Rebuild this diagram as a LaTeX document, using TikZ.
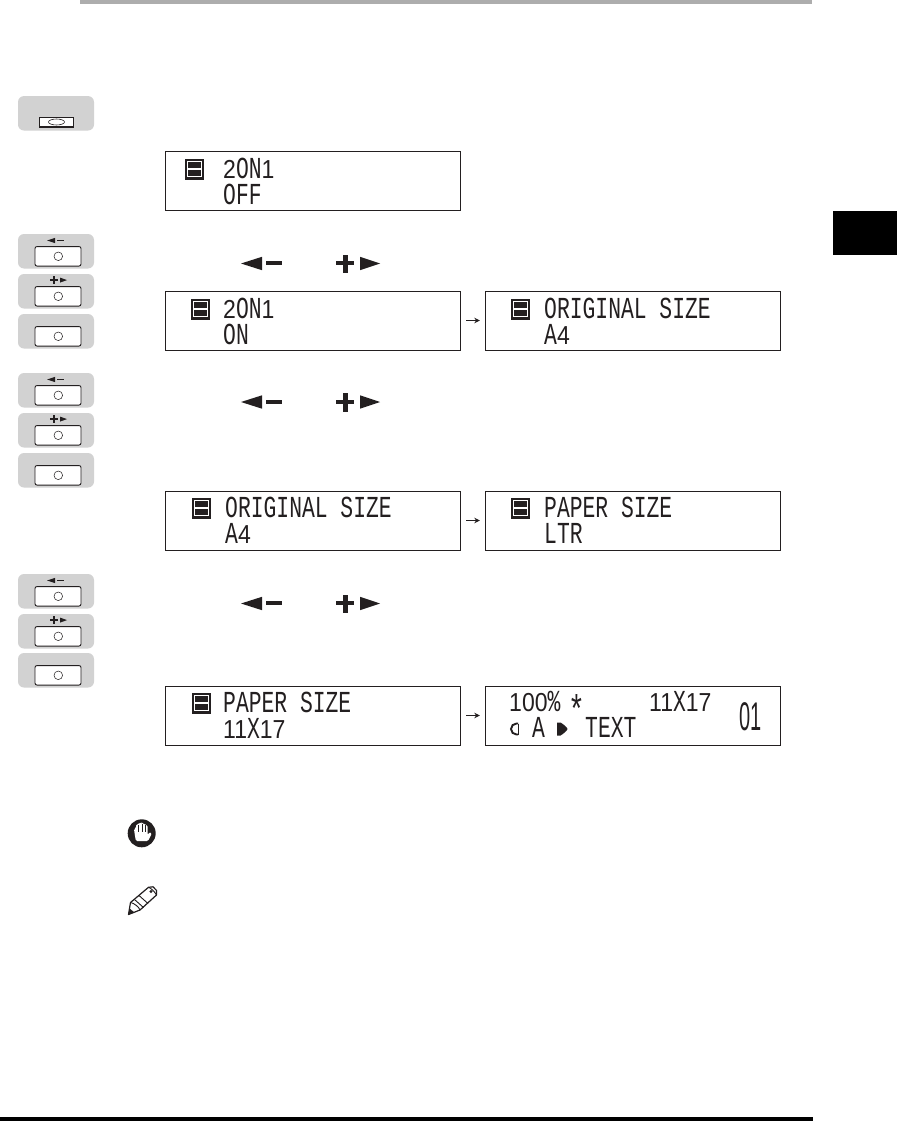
\documentclass[tikz,border=0pt]{standalone}
\usepackage{fontspec}
\usetikzlibrary{arrows.meta}
\newfontfamily\lcdfont[FakeStretch=0.70]{Liberation Mono}
\newfontfamily\lcddigit[FakeStretch=0.885]{Liberation Sans}
\newfontfamily\lcdnarrow[FakeStretch=0.50]{Liberation Sans}
\newcommand{\dg}[1]{{\lcddigit\fontsize{26}{26}\selectfont #1}}
\definecolor{pad}{HTML}{D2D2D2}
\definecolor{ink}{HTML}{231F20}
\tikzset{
 lcdbox/.style={draw=ink,line width=0.9pt,minimum width=295.5pt,minimum height=59pt,inner sep=0pt},
 lcdtext/.style={anchor=base west,inner sep=0pt,text=ink,text height=19pt,text depth=0pt,font=\lcdfont\fontsize{30.5}{30.5}\selectfont},
 padbox/.style={fill=pad,rounded corners=6pt,minimum width=76pt,minimum height=34.5pt,inner sep=0pt},
 keybox/.style={draw=ink,line width=0.9pt,fill=white,rounded corners=2pt,minimum width=46pt,minimum height=19.5pt,inner sep=0pt},
 keydot/.style={draw=ink,line width=0.5pt,circle,minimum size=8.6pt,inner sep=0pt},
 lcdarrow/.style={draw=ink,line width=1.2pt,-{Stealth[length=5.5pt,width=5.5pt]}},
}
\newcommand{\paneicon}[2]{%
 \fill[ink] (#1,#2) rectangle ++(19,21);
 \fill[white] (#1+2.2,#2+2.2) rectangle ++(14.6,16.6);
 \fill[ink] (#1+3.4,#2+3.6) rectangle ++(12.2,6);
 \fill[ink] (#1+3.4,#2+11.4) rectangle ++(12.2,6);
}
\newcommand{\keypad}[3]{%
 \node[padbox] (#1) at (56,#2+17.25) {};
 \node[keybox] (#1k) at (58,#2+22.3) {};
 \node[keydot] (#1d) at (58.3,#2+22.3) {};
 \ifcase#3\or
  \fill[ink] (47,#2+6.5) -- (55,#2+3.9) -- (55,#2+9.1) -- cycle;
  \fill[ink] (57,#2+5.8) rectangle (64,#2+7.2);
 \or
  \fill[ink] (50,#2+5.4) rectangle (58,#2+6.8);
  \fill[ink] (53.3,#2+2.1) rectangle (54.7,#2+10.1);
  \fill[ink] (67,#2+6.1) -- (60,#2+3.6) -- (60,#2+8.6) -- cycle;
 \fi
}
\newcommand{\bigkeys}[1]{%
 \fill[ink] (241,#1+0.5) -- (262,#1-6.2) -- (262,#1+7.2) -- cycle;
 \fill[ink] (266,#1-2) rectangle (282,#1+2);
 \fill[ink] (336,#1-2) rectangle (354,#1+2);
 \fill[ink] (342.5,#1-8.5) rectangle (347.5,#1+10);
 \fill[ink] (380,#1+0.5) -- (360,#1-6.2) -- (360,#1+7.2) -- cycle;
}
\begin{document}
\begin{tikzpicture}[x=1pt,y=-1pt]
\useasboundingbox (0,0) rectangle (897,1121);
\fill[white] (0,0) rectangle (897,1121);
% page furniture
\fill[black!32] (80,0) rectangle (812,4);
\fill[black] (833,211) rectangle (897,255);
\fill[black] (0,1117) rectangle (812.5,1121);

% pads
\node[padbox] (p1) at (56,113.3) {};
\node[draw=ink,line width=0.8pt,fill=white,minimum width=34pt,minimum height=9.5pt,inner sep=0pt] (p1k) at (56.5,122) {};
\draw[ink,line width=1.6pt] (p1k.south west) -- (p1k.south east);
\draw[ink,line width=0.6pt] (p1k.center) ellipse (8pt and 3pt);
\keypad{a1}{234}{1}
\keypad{a2}{274}{2}
\keypad{a3}{314}{0}
\keypad{b1}{373}{1}
\keypad{b2}{413}{2}
\keypad{b3}{453}{0}
\keypad{c1}{574}{1}
\keypad{c2}{614}{2}
\keypad{c3}{653}{0}

% large symbols
\bigkeys{263}
\bigkeys{401.5}
\bigkeys{603}

% LCD boxes
\node[lcdbox] (l1) at (313,180.5) {};
\node[lcdbox] (l2a) at (313,320.5) {};
\node[lcdbox] (l2b) at (633,320.5) {};
\node[lcdbox] (l3a) at (313,520.5) {};
\node[lcdbox] (l3b) at (633,520.5) {};
\node[lcdbox] (l4a) at (313,715.5) {};
\node[lcdbox] (l4b) at (633,715.5) {};
\draw[lcdarrow] ([xshift=5pt]l2a.east) -- ([xshift=-5pt]l2b.west);
\draw[lcdarrow] ([xshift=5pt]l3a.east) -- ([xshift=-5pt]l3b.west);
\draw[lcdarrow] ([xshift=5pt]l4a.east) -- ([xshift=-5pt]l4b.west);

% icons
\paneicon{185}{158.5}
\paneicon{191}{298.5}
\paneicon{511}{298.5}
\paneicon{192}{497.5}
\paneicon{511}{497.5}
\paneicon{192}{692.5}

% LCD text
\node[lcdtext] (t1a) at (223,178) {\dg{2}ON\dg{1}};
\node[lcdtext] (t1b) at (223,204) {OFF};
\node[lcdtext] (t2a) at (223,318) {\dg{2}ON\dg{1}};
\node[lcdtext] (t2b) at (223,344) {ON};
\node[lcdtext] (t2c) at (544,318) {ORIGINAL SIZE};
\node[lcdtext] (t2d) at (544,344) {A\dg{4}};
\node[lcdtext] (t3a) at (225,517) {ORIGINAL SIZE};
\node[lcdtext] (t3b) at (225,543) {A\dg{4}};
\node[lcdtext] (t3c) at (544,517) {PAPER SIZE};
\node[lcdtext] (t3d) at (544,543) {LTR};
\node[lcdtext] (t4a) at (223,712) {PAPER SIZE};
\node[lcdtext] (t4b) at (223,738) {\dg{11}X\dg{17}};
\node[lcdtext] (t4c) at (509,711) {\dg{100}\%};
\node[lcdtext,font=\lcdfont\fontsize{40}{40}\selectfont,text height=15pt] (t4d) at (568,723) {*};
\node[lcdtext] (t4e) at (649,711) {\dg{11}X\dg{17}};
\node[lcdtext] (t4f) at (532,737) {A};
\node[lcdtext] (t4g) at (585,737) {TEXT};
\node[lcdtext,font=\lcdnarrow\fontsize{40}{40}\selectfont,text height=28pt] (t4h) at (739,730) {01};
% half circle marks
\draw[ink,line width=1.9pt] (518,723.5) -- (516.5,723.5) arc (90:270:5.5pt) -- (518,734.5);
\draw[ink,line width=0.8pt] (518,723.5) -- (518,734.5);
\fill[ink] (557,722.5) -- (560.5,722.5) .. controls (563,724) and (567,727) .. (567.5,729) .. controls (567,731) and (563,734) .. (560.5,735.5) -- (557,735.5) -- cycle;

% hand icon
\fill[ink] (141.7,833.3) circle (14pt);
\fill[white,rounded corners=1.2pt] (136,841) -- (134.8,835) -- (134,829) -- (136,828) -- (136,824.5) -- (138.6,824.5) -- (138.8,822.8) -- (141.6,822.8) -- (141.8,823.4) -- (144.6,823.6) -- (144.8,825) -- (147.5,825.3) -- (147.5,835) -- (150,832) -- (151.8,833.5) -- (148,841) -- cycle;
\draw[ink,line width=0.35pt] (138.6,825) -- (138.6,832) (141.7,824) -- (141.7,832) (144.7,825) -- (144.7,832);

% pencil icon
\draw[ink,line width=1.2pt,line join=round] (128.5,914.5) -- (130.5,902.5) -- (148.5,887.3) -- (153,886.8) -- (156.6,890.5) -- (156.5,895) -- (140,910) -- cycle;
\draw[ink,line width=0.9pt] (130.5,902.5) .. controls (134,903) and (139,907) .. (140,910)
  (134.5,899.5) -- (143.5,907.5) (139,895.5) -- (148,903.5)
  (148.5,887.3) .. controls (151,888) and (155,892) .. (156.5,895);
\fill[ink] (128.5,914.5) -- (129.6,908.5) -- (134.5,912.5) -- cycle;
\fill[ink] (151,891.5) circle (1.7pt);
\end{tikzpicture}
\end{document}
